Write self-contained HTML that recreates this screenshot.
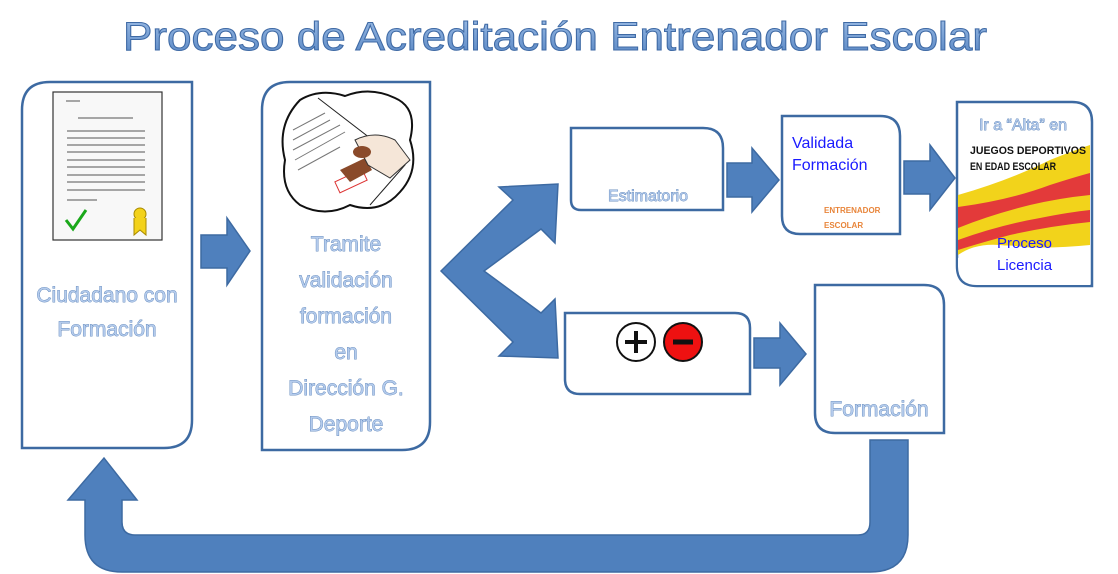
<!DOCTYPE html>
<html><head><meta charset="utf-8"><style>
html,body{margin:0;padding:0;background:#fff;width:1118px;height:574px;overflow:hidden}
svg{display:block}
.lab{font-family:"Liberation Sans",sans-serif;fill:#b4cbec;stroke:#4a76b0;stroke-width:0.7px;paint-order:stroke}
.blue{font-family:"Liberation Sans",sans-serif;fill:#1a1aff}
</style></head><body>
<svg width="1118" height="574" viewBox="0 0 1118 574" xmlns="http://www.w3.org/2000/svg">
<defs>
<linearGradient id="tg" x1="0" y1="0" x2="0" y2="1"><stop offset="0" stop-color="#9dbde6"/><stop offset="1" stop-color="#5584c2"/></linearGradient>
</defs>
<!-- Title -->
<text x="555" y="50" text-anchor="middle" font-family="Liberation Sans, sans-serif" font-size="40" fill="url(#tg)" stroke="#3f6aa5" stroke-width="1" textLength="864" lengthAdjust="spacingAndGlyphs">Proceso de Acreditación Entrenador Escolar</text>

<g fill="#fff" stroke="#3d6aa2" stroke-width="2.5">
<path d="M22,448 V110 Q22,82 50,82 H192 V420 Q192,448 164,448 Z"/>
<path d="M262,450 V110 Q262,82 290,82 H430 V422 Q430,450 402,450 Z"/>
<path d="M571,200 V128 H703 Q723,128 723,148 V210 H581 Q571,210 571,200 Z"/>
<path d="M782,216 V116 H880 Q900,116 900,136 V234 H800 Q782,234 782,216 Z"/>
<path d="M957,266 V102 H1072 Q1092,102 1092,122 V286 H977 Q957,286 957,266 Z"/>
<path d="M565,379 V313 H735 Q750,313 750,328 V394 H580 Q565,394 565,379 Z"/>
<path d="M815,413 V285 H924 Q944,285 944,305 V433 H835 Q815,433 815,413 Z"/>
</g>

<g fill="#4f80bd" stroke="#3d6aa2" stroke-width="1.5">
<polygon points="201,235 227,235 227,218 250,251 227,285 227,268 201,268"/>
<polygon points="727,163 752,163 752,148 779,180 752,212 752,197 727,197"/>
<polygon points="904,161 930,161 930,145 955,178 930,210 930,194 904,194"/>
<polygon points="754,338 780,338 780,323 806,354 780,385 780,368 754,368"/>
<polygon points="441,271 513,200 499,187 558,184 555,243 541,229 484,271 541,313 555,299 558,358 499,356 513,342"/>
<path d="M870,440 H908 V535 Q908,572 870,572 H122 Q85,572 85,535 V500 H68 L104,458 L137,500 H122 V522 Q122,535 135,535 H858 Q870,535 870,522 Z"/>
</g>

<g>
<rect x="53" y="92" width="109" height="148" fill="#f8f8f8" stroke="#333" stroke-width="1.2"/>
<g stroke="#555" stroke-width="1">
<line x1="66" y1="101" x2="80" y2="101"/><line x1="78" y1="118" x2="133" y2="118"/>
<line x1="67" y1="131" x2="145" y2="131"/><line x1="67" y1="138" x2="145" y2="138"/>
<line x1="67" y1="145" x2="145" y2="145"/><line x1="67" y1="152" x2="145" y2="152"/>
<line x1="67" y1="160" x2="145" y2="160"/><line x1="67" y1="167" x2="145" y2="167"/>
<line x1="67" y1="175" x2="145" y2="175"/><line x1="67" y1="182" x2="145" y2="182"/>
<line x1="67" y1="190" x2="145" y2="190"/><line x1="67" y1="200" x2="97" y2="200"/>
</g>
<path d="M66,220 L73,229 L86,210" fill="none" stroke="#1aa81a" stroke-width="3"/>
<circle cx="140" cy="214" r="6" fill="#f3d21b" stroke="#a88a00"/>
<path d="M134,218 V235 L140,230 L146,235 V218" fill="#f3d21b" stroke="#a88a00"/>
</g>

<g>
<path d="M300,100 Q320,88 345,96 Q370,86 395,98 Q418,108 410,140 Q420,170 400,192 Q380,215 350,205 Q325,218 300,205 Q280,190 285,160 Q276,125 300,100 Z" fill="#fff" stroke="#111" stroke-width="2"/>
<g stroke="#777" stroke-width="1"><line x1="293" y1="130" x2="325" y2="113"/><line x1="293" y1="140" x2="330" y2="120"/><line x1="293" y1="150" x2="340" y2="125"/><line x1="295" y1="160" x2="345" y2="132"/><line x1="298" y1="170" x2="340" y2="147"/></g>
<path d="M318,98 L405,165 L370,205" fill="none" stroke="#222" stroke-width="1"/>
<rect x="336" y="175" width="30" height="12" fill="none" stroke="#d33" transform="rotate(-25 351 181)"/>
<path d="M340,170 L365,158 L372,170 L350,182 Z" fill="#8a4a2a"/>
<path d="M355,140 Q375,130 395,140 L410,160 L390,178 L368,165 Z" fill="#f5e6d8" stroke="#333"/>
<ellipse cx="362" cy="152" rx="9" ry="6" fill="#8a4a2a"/>
</g>

<g class="lab" font-size="21" text-anchor="middle">
<text x="107" y="302">Ciudadano con</text>
<text x="107" y="336">Formación</text>
<text x="346" y="251">Tramite</text>
<text x="346" y="287">validación</text>
<text x="346" y="323">formación</text>
<text x="346" y="359">en</text>
<text x="346" y="395">Dirección G.</text>
<text x="346" y="431">Deporte</text>
<text x="879" y="416">Formación</text>
</g>
<text class="lab" x="648" y="201" font-size="16" text-anchor="middle">Estimatorio</text>

<text class="blue" x="792" y="148" font-size="16">Validada</text>
<text class="blue" x="792" y="170" font-size="16">Formación</text>
<text x="824" y="213" font-family="Liberation Sans, sans-serif" font-size="8" font-weight="bold" fill="#e8853a">ENTRENADOR</text>
<text x="824" y="228" font-family="Liberation Sans, sans-serif" font-size="8" font-weight="bold" fill="#e8853a">ESCOLAR</text>

<path d="M958,195 Q1010,180 1050,160 Q1075,150 1090,145 V245 Q1040,250 1000,245 Q975,243 958,255 Z" fill="#f2d31b"/>
<path d="M958,207 Q1010,200 1050,185 Q1075,177 1090,173 V195 Q1060,198 1030,205 Q990,215 958,228 Z" fill="#e33a3a"/>
<path d="M958,240 Q1000,225 1040,218 Q1070,212 1090,210 V222 Q1050,226 1010,235 Q980,243 958,250 Z" fill="#e33a3a"/>
<path d="M958,258 Q990,240 1030,248 L1090,250 V285 H977 Q958,285 958,266 Z" fill="#fff"/>
<text class="lab" x="1023" y="130" font-size="16" text-anchor="middle">Ir a “Alta” en</text>
<text x="970" y="154" font-family="Liberation Sans, sans-serif" font-size="11" font-weight="bold" fill="#111" textLength="116" lengthAdjust="spacingAndGlyphs">JUEGOS DEPORTIVOS</text>
<text x="970" y="170" font-family="Liberation Sans, sans-serif" font-size="11" font-weight="bold" fill="#111" textLength="86" lengthAdjust="spacingAndGlyphs">EN EDAD ESCOLAR</text>
<text class="blue" x="997" y="248" font-size="15">Proceso</text>
<text class="blue" x="997" y="270" font-size="15">Licencia</text>

<circle cx="636" cy="342" r="19" fill="#fff" stroke="#111" stroke-width="2"/>
<path d="M636,331 V353 M625,342 H647" stroke="#111" stroke-width="4"/>
<circle cx="683" cy="342" r="19" fill="#ee1111" stroke="#111" stroke-width="2"/>
<path d="M673,342 H693" stroke="#111" stroke-width="5"/>
</svg>
</body></html>
